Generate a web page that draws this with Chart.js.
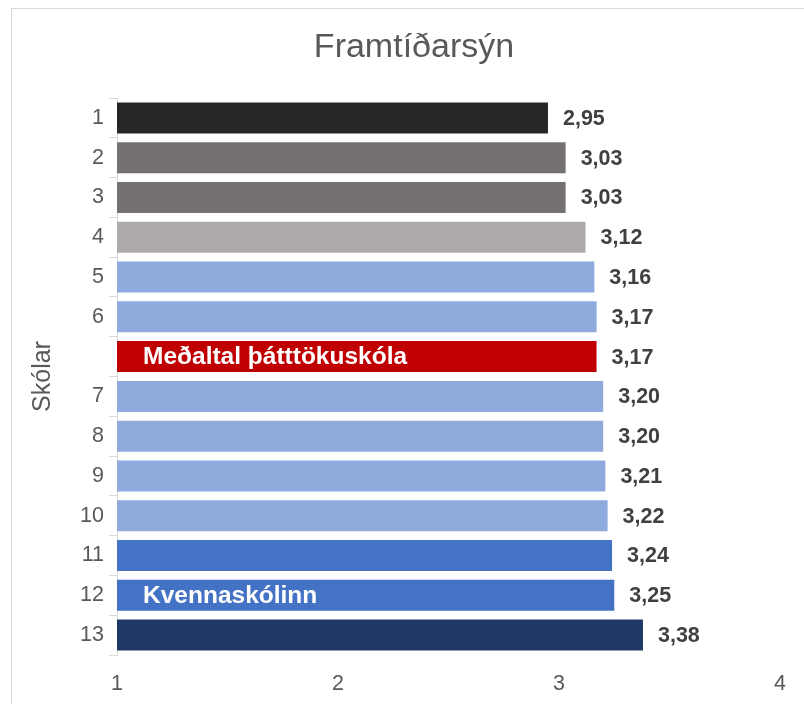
<!DOCTYPE html>
<html>
<head>
<meta charset="utf-8">
<script src="https://cdn.jsdelivr.net/npm/chart.js@4.4.0/dist/chart.umd.min.js"></script>
<style>
  html, body { margin: 0; padding: 0; background: #fff; overflow: hidden; }
  #wrap { position: absolute; left: 11px; top: 8px; width: 804px; height: 710px; border: 1px solid #d9d9d9; background: #fff; }
  canvas { display: block; }
</style>
</head>
<body>
<div id="wrap"><canvas id="c" width="804" height="696"></canvas></div>
<script>
const chartTitle = "Framtíðarsýn";
const axisTitle = "Skólar";
const categories = ["1", "2", "3", "4", "5", "6", "", "7", "8", "9", "10", "11", "12", "13"];
const values = [2.95, 3.03, 3.03, 3.12, 3.16, 3.17, 3.17, 3.20, 3.20, 3.21, 3.22, 3.24, 3.25, 3.38];
const insideLabels = ["", "", "", "", "", "", "Meðaltal þátttökuskóla", "", "", "", "", "", "Kvennaskólinn", ""];
const barColors = ["#262626", "#767171", "#767171", "#AEAAAA", "#8FAADC", "#8FAADC", "#C00000",
                   "#8FAADC", "#8FAADC", "#8FAADC", "#8FAADC", "#4472C4", "#4472C4", "#203864"];
const xTicks = [1, 2, 3, 4];

const FONT = "'Liberation Sans', Arial, sans-serif";

const labelPlugin = {
  id: 'labelPlugin',
  afterDraw(chart) {
    const ctx = chart.ctx;
    ctx.save();
    ctx.font = "34px " + FONT;
    ctx.fillStyle = '#595959';
    ctx.textAlign = 'center';
    ctx.textBaseline = 'middle';
    ctx.fillText(chartTitle, 402, 39);
    ctx.restore();
  },
  afterDatasetsDraw(chart) {
    const ctx = chart.ctx;
    const meta = chart.getDatasetMeta(0);
    const area = chart.chartArea;
    ctx.save();
    ctx.textBaseline = 'middle';
    meta.data.forEach((bar, i) => {
      ctx.font = "bold 21.5px " + FONT;
      ctx.fillStyle = '#404040';
      ctx.textAlign = 'left';
      ctx.fillText(values[i].toFixed(2).replace('.', ','), bar.x + 15, bar.y + 1);
      if (insideLabels[i]) {
        ctx.font = "bold 24.5px " + FONT;
        ctx.fillStyle = '#ffffff';
        ctx.fillText(insideLabels[i], area.left + 26, bar.y + 1);
      }
    });
    ctx.restore();
  }
};

new Chart(document.getElementById('c'), {
  type: 'bar',
  data: {
    labels: categories,
    datasets: [{
      data: values,
      backgroundColor: barColors,
      borderWidth: 0,
      barPercentage: 0.78,
      categoryPercentage: 1.0
    }]
  },
  options: {
    indexAxis: 'y',
    responsive: false,
    animation: false,
    devicePixelRatio: 1,
    layout: { padding: { left: 0, right: 36, top: 89, bottom: 0 } },
    plugins: {
      legend: { display: false },
      tooltip: { enabled: false },
      title: { display: false }
    },
    scales: {
      x: {
        type: 'linear',
        min: 1,
        max: 4,
        afterBuildTicks(scale) { scale.ticks = xTicks.map(v => ({ value: v })); },
        grid: { display: false, drawTicks: false },
        border: { display: false },
        ticks: {
          color: '#595959',
          font: { family: FONT, size: 21.5 },
          padding: 16
        },
        afterFit(scale) { scale.height = 50; }
      },
      y: {
        grid: { display: true, drawOnChartArea: false, drawTicks: true, tickLength: 8, color: '#d9d9d9', offset: true },
        border: { display: true, color: '#d9d9d9', width: 1 },
        ticks: {
          color: '#595959',
          font: { family: FONT, size: 21.5 },
          padding: 5
        },
        title: {
          display: true,
          text: axisTitle,
          color: '#595959',
          font: { family: FONT, size: 25, weight: 'normal' },
          padding: { top: 16, bottom: 0 }
        },
        afterFit(scale) { scale.width = 105; }
      }
    }
  },
  plugins: [labelPlugin]
});
</script>
</body>
</html>
